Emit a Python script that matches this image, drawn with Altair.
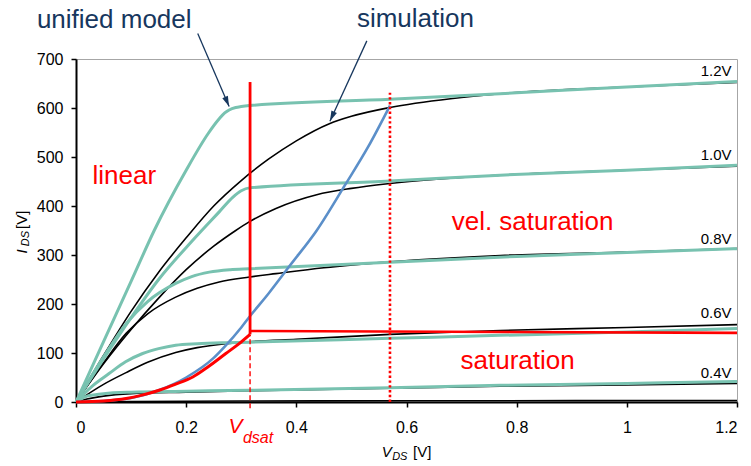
import altair as alt
import pandas as pd

FONT = "Liberation Sans"
TEAL = "#78C2B0"
BLUE = "#5B8FC9"
RED = "#FF0000"
NAVY = "#17375E"

# ---------------- simulation curves (black) ----------------
sim_12_x = [0, 0.05, 0.1, 0.15, 0.2, 0.25, 0.3, 0.35, 0.4, 0.46, 0.5, 0.57, 0.68, 0.77, 0.9, 1.0, 1.2]
sim_12_y = [0, 95, 185, 265, 335, 400, 452, 496, 533, 568, 583, 601, 619, 629, 638, 643, 652]
sim_10_x = [0, 0.05, 0.1, 0.15, 0.2, 0.25, 0.29, 0.315, 0.363, 0.437, 0.5, 0.57, 0.77, 1.0, 1.2]
sim_10_y = [0, 78, 148, 212, 270, 318, 350, 368, 395, 423, 436, 446, 463, 473, 481]
sim_08_x = [0, 0.05, 0.091, 0.13, 0.181, 0.22, 0.26, 0.315, 0.363, 0.45, 0.57, 0.77, 1.0, 1.2]
sim_08_y = [0, 80, 140, 180, 214, 232, 245, 255, 262, 274, 286, 299, 306, 313]
sim_06_x = [0, 0.05, 0.091, 0.13, 0.181, 0.22, 0.272, 0.315, 0.4, 0.57, 0.77, 1.0, 1.2]
sim_06_y = [0, 36, 60, 81, 101, 111, 119, 123, 128, 138, 146, 152, 158]
sim_04_x = [0, 0.02, 0.05, 0.1, 0.2, 0.315, 0.57, 0.77, 1.0, 1.2]
sim_04_y = [0, 6, 12, 17, 20, 23, 28, 32, 35, 38]
sim_02_x = [0, 0.1, 0.3, 0.6, 1.2]
sim_02_y = [0, 1, 2, 2.5, 3]

# ---------------- unified model curves (teal) ----------------
mod_12_x = [0, 0.05, 0.1, 0.142, 0.2, 0.24, 0.26, 0.27, 0.278, 0.29, 0.3, 0.315, 0.57, 0.8, 1.0, 1.2]
mod_12_y = [0, 123, 246, 350, 473, 548, 578, 590, 596, 601, 603, 605, 618, 631, 643, 654]
mod_10_x = [0, 0.05, 0.1, 0.15, 0.212, 0.26, 0.285, 0.3, 0.315, 0.57, 0.77, 1.0, 1.2]
mod_10_y = [0, 88, 172, 250, 330, 388, 418, 431, 437, 451, 463, 473, 483]
mod_08_x = [0, 0.05, 0.091, 0.13, 0.181, 0.21, 0.242, 0.28, 0.315, 0.57, 0.8, 1.0, 1.2]
mod_08_y = [0, 92, 160, 205, 242, 256, 265, 270, 272, 285, 297, 305, 313]
mod_06_x = [0, 0.03, 0.06, 0.09, 0.121, 0.15, 0.181, 0.22, 0.272, 0.315, 0.57, 0.77, 1.0, 1.2]
mod_06_y = [0, 33, 58, 82, 99, 109, 116, 119, 121, 122, 130, 136, 143, 150]
mod_04_x = [0, 0.01, 0.02, 0.035, 0.05, 0.1, 0.2, 0.315, 0.57, 0.77, 1.0, 1.2]
mod_04_y = [0, 7, 12, 15, 17, 20, 22, 24, 29, 34, 38, 42]

# ---------------- Vdsat locus (blue) ----------------
vdsat_x = [0, 0.05, 0.1, 0.15, 0.2, 0.25, 0.27, 0.3, 0.315, 0.35, 0.388, 0.437, 0.488, 0.53, 0.57]
vdsat_y = [0, 2, 8, 24, 50, 90, 113, 152, 174, 222, 278, 350, 442, 520, 605]

# ---------------- region boundaries (red) ----------------
red_curve_x = [0, 0.05, 0.091, 0.12, 0.151, 0.18, 0.212, 0.24, 0.272, 0.295, 0.316]
red_curve_y = [0, 2, 7, 14, 24, 36, 51, 72, 99, 118, 138]
red_hline_x = [0.316, 1.2]
red_hline_y = [145, 141]
vdsat_pos = 0.316
vsat_pos = 0.57
red_solid_y = [138, 653]
red_dash_y = [-13, 138]
red_dot_y = [0, 631]

# ---------------- labels ----------------
curve_labels = ["1.2V", "1.0V", "0.8V", "0.6V", "0.4V"]
curve_label_x = [1.19, 1.19, 1.19, 1.19, 1.19]
curve_label_y = [665, 493, 322, 172, 49]

region_labels = ["linear", "vel. saturation", "saturation"]
region_label_x = [0.030, 0.682, 0.698]
region_label_y = [444, 352, 67]

note_labels = ["unified model", "simulation"]
note_x = [-0.071, 0.510]
note_y = [763, 765]
arrow_x_start = [0.221, 0.528]
arrow_y_start = [752, 737]
arrow_x_end = [0.278, 0.461]
arrow_y_end = [603, 573]
arrow_angle = [157, 204]

x_ticks = [0, 0.2, 0.4, 0.6, 0.8, 1.0, 1.2]
y_ticks = [0, 100, 200, 300, 400, 500, 600, 700]


def frame(xs, ys, name):
    return pd.DataFrame({"vds": xs, "ids": ys, "series": name})


sim = pd.concat([
    frame(sim_12_x, sim_12_y, "1.2"), frame(sim_10_x, sim_10_y, "1.0"),
    frame(sim_08_x, sim_08_y, "0.8"), frame(sim_06_x, sim_06_y, "0.6"),
    frame(sim_04_x, sim_04_y, "0.4"), frame(sim_02_x, sim_02_y, "0.2"),
])
model = pd.concat([
    frame(mod_12_x, mod_12_y, "1.2"), frame(mod_10_x, mod_10_y, "1.0"),
    frame(mod_08_x, mod_08_y, "0.8"), frame(mod_06_x, mod_06_y, "0.6"),
    frame(mod_04_x, mod_04_y, "0.4"),
])

xs = alt.Scale(domain=[0, 1.2], nice=False)
ys = alt.Scale(domain=[0, 700], nice=False)
X = alt.X("vds:Q", scale=xs, title=None,
          axis=alt.Axis(values=x_ticks, format=".1~f", grid=False, tickSize=5,
                        labelPadding=12, domainWidth=2, domainColor="black",
                        tickColor="black", tickWidth=1.5, labelFontSize=16,
                        labelFont=FONT, labelColor="black"))
Y = alt.Y("ids:Q", scale=ys, title=None,
          axis=alt.Axis(values=y_ticks, format="d", grid=False, tickSize=5,
                        labelPadding=8, domainWidth=2, domainColor="black",
                        tickColor="black", tickWidth=1.5, labelFontSize=16,
                        labelFont=FONT, labelColor="black"))

sim_layer = alt.Chart(sim).mark_line(color="black", strokeWidth=1.6, interpolate="monotone").encode(
    x=X, y=Y, detail="series:N", order="vds:Q")
model_layer = alt.Chart(model).mark_line(color=TEAL, strokeWidth=3, interpolate="monotone").encode(
    x=X, y=Y, detail="series:N", order="vds:Q")
blue_layer = alt.Chart(frame(vdsat_x, vdsat_y, "vdsat")).mark_line(
    color=BLUE, strokeWidth=2.6, interpolate="monotone").encode(x=X, y=Y, order="vds:Q")
red_curve = alt.Chart(frame(red_curve_x, red_curve_y, "red")).mark_line(
    color=RED, strokeWidth=3, interpolate="monotone").encode(x=X, y=Y, order="vds:Q")
red_h = alt.Chart(frame(red_hline_x, red_hline_y, "redh")).mark_line(
    color=RED, strokeWidth=2.6).encode(x=X, y=Y)


def vrule(xpos, yr):
    return pd.DataFrame({"vds": [xpos], "ids": [yr[0]], "ids2": [yr[1]]})


red_solid = alt.Chart(vrule(vdsat_pos, red_solid_y)).mark_rule(
    color=RED, strokeWidth=2.8).encode(x=X, y=Y, y2="ids2:Q")
red_dash = alt.Chart(vrule(vdsat_pos, red_dash_y)).mark_rule(
    color=RED, strokeWidth=1.4, strokeDash=[5, 3]).encode(x=X, y=Y, y2="ids2:Q")
red_dot = alt.Chart(vrule(vsat_pos, red_dot_y)).mark_rule(
    color=RED, strokeWidth=2.6, strokeDash=[2.4, 2.4]).encode(x=X, y=Y, y2="ids2:Q")

arrows = pd.DataFrame({"vds": arrow_x_start, "ids": arrow_y_start,
                       "vds2": arrow_x_end, "ids2": arrow_y_end})
arrow_lines = alt.Chart(arrows).mark_rule(color=NAVY, strokeWidth=1.3).encode(
    x=X, y=Y, x2="vds2:Q", y2="ids2:Q")
heads = pd.DataFrame({"vds": arrow_x_end, "ids": arrow_y_end, "angle": arrow_angle})
arrow_heads = alt.Chart(heads).mark_point(
    shape="M0,0L-0.75,2.6L0.75,2.6Z", filled=True, color=NAVY, opacity=1,
    size=64).encode(x=X, y=Y, angle=alt.Angle("angle:Q", scale=None))

cl = pd.DataFrame({"vds": curve_label_x, "ids": curve_label_y, "t": curve_labels})
curve_text = alt.Chart(cl).mark_text(align="right", baseline="alphabetic", font=FONT,
                                     fontSize=15, color="black").encode(x=X, y=Y, text="t:N")
rl = pd.DataFrame({"vds": region_label_x, "ids": region_label_y, "t": region_labels})
region_text = alt.Chart(rl).mark_text(align="left", baseline="alphabetic", font=FONT,
                                      fontSize=26, color=RED).encode(x=X, y=Y, text="t:N")
nl = pd.DataFrame({"vds": note_x, "ids": note_y, "t": note_labels})
note_text = alt.Chart(nl).mark_text(align="left", baseline="alphabetic", font=FONT,
                                    fontSize=26, color=NAVY).encode(x=X, y=Y, text="t:N")


def piece(text, vx, vy, size, color, style="normal", angle=0):
    d = pd.DataFrame({"vds": [vx], "ids": [vy], "t": [text]})
    return alt.Chart(d).mark_text(align="left", baseline="alphabetic", font=FONT,
                                  fontSize=size, color=color, fontStyle=style,
                                  angle=angle).encode(x=X, y=Y, text="t:N")


vdsat_label = piece("V", 0.277, -64, 21, RED, "italic") + piece("dsat", 0.303, -84, 16, RED, "italic")
x_title = (piece("V", 0.555, -112, 15, "black", "italic")
           + piece("DS", 0.574, -119, 11, "black", "italic")
           + piece("[V]", 0.612, -112, 15, "black"))
y_title = (piece("I", -0.089, 303, 15, "black", "italic", 270)
           + piece("DS", -0.085, 318, 11, "black", "italic", 270)
           + piece("[V]", -0.089, 353, 15, "black", "normal", 270))

chart = alt.layer(
    sim_layer, model_layer, blue_layer, red_curve, red_h, red_solid, red_dash, red_dot,
    arrow_lines, arrow_heads, curve_text, region_text, note_text,
    vdsat_label, x_title, y_title,
).properties(
    width=661, height=343,
    autosize=alt.AutoSizeParams(type="none"),
    padding={"left": 76, "top": 59, "right": 14, "bottom": 64},
    background="white",
).configure_view(stroke="#A6A6A6", strokeWidth=1)

chart.save("out.html", embed_options={"renderer": "svg", "actions": False})
